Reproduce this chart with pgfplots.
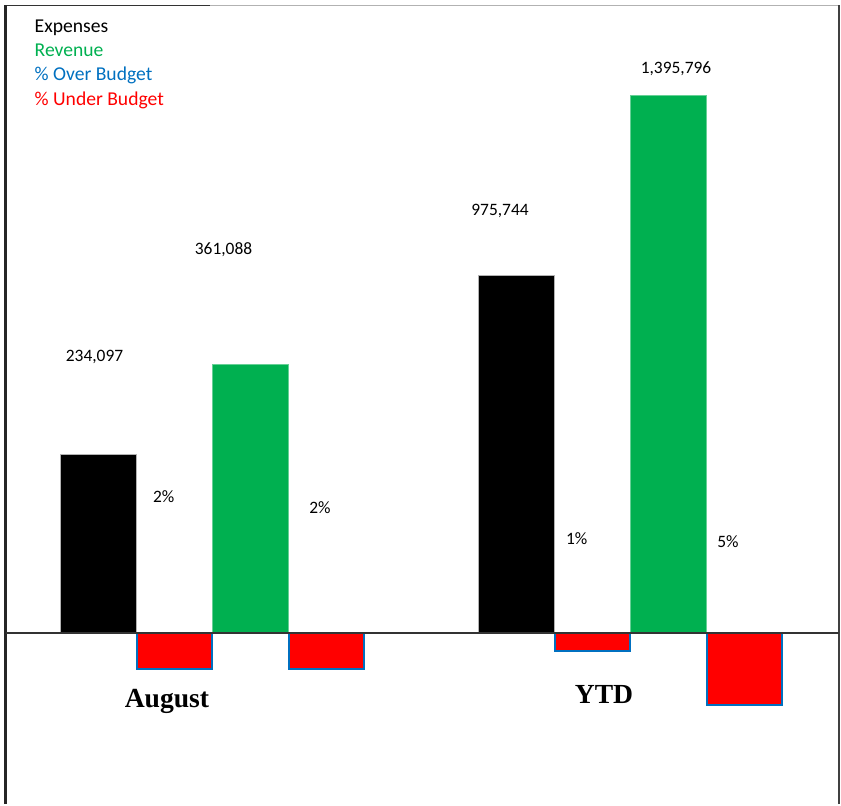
\documentclass[border=0pt]{standalone}
\usepackage{pgfplots}
\pgfplotsset{compat=1.18}
\usepackage{fontspec}
\setmainfont{Carlito}
\newfontfamily\catfont{Liberation Serif}
\definecolor{xgreen}{RGB}{0,176,80}
\definecolor{xblue}{RGB}{0,112,192}
\definecolor{xred}{RGB}{255,0,0}
\begin{document}
\begin{tikzpicture}
\begin{axis}[
  scale only axis, width=420.5pt, height=402pt,
  xmin=0, xmax=841, ymin=-171, ymax=633,
  hide axis, clip=false,
]
\path (axis cs:0,-171) rectangle (axis cs:841,633);
% frame
\draw[gray!60, line width=0.8pt] (axis cs:5.5,627.5) -- (axis cs:839,627.5);
\draw[black!80, line width=0.8pt] (axis cs:5.5,627.5) -- (axis cs:210,627.5);
\draw[black!85, line width=1.1pt] (axis cs:5.5,-171) -- (axis cs:5.5,628);
\draw[black!75, line width=0.8pt] (axis cs:839,-171) -- (axis cs:839,628);
% bars (heights in drawn units)
\addplot[ybar, bar width=76, bar shift=0pt, fill=black, draw=gray!60, line width=0.3pt]
  coordinates {(98.7,179) (516.3,358)};
\addplot[ybar, bar width=76, bar shift=0pt, fill=xgreen, draw=xgreen!60, line width=0.3pt]
  coordinates {(250.5,269) (668.5,537.5)};
\addplot[ybar, bar width=75, bar shift=0pt, fill=xred, draw=xblue, line width=0.8pt]
  coordinates {(174.7,-36) (326.7,-36) (592.5,-18) (744.3,-72)};
% zero line
\draw[black!80, line width=0.7pt] (axis cs:5.5,0) -- (axis cs:839,0);
% value labels
\begin{scope}[font=\fontsize{8.7}{10}\selectfont]
\node at (axis cs:94.5,276.3) {234,097};
\node at (axis cs:223.5,383) {361,088};
\node at (axis cs:500,422) {975,744};
\node at (axis cs:676,564) {1,395,796};
\node at (axis cs:163.8,136.3) {2\%};
\node at (axis cs:320,125.7) {2\%};
\node at (axis cs:576.7,94.7) {1\%};
\node at (axis cs:728,91.3) {5\%};
\end{scope}
% legend
\begin{scope}[font=\fontsize{9.8}{12}\selectfont, inner sep=0pt]
\node[anchor=base west] at (axis cs:34.3,600.3) {Expenses};
\node[anchor=base west, text=xgreen] at (axis cs:34.3,576.3) {Revenue};
\node[anchor=base west, text=xblue] at (axis cs:34.3,552) {\% Over Budget};
\node[anchor=base west, text=xred] at (axis cs:34.3,527.7) {\% Under Budget};
\end{scope}
% category labels
\begin{scope}[font=\catfont\bfseries\fontsize{13.8}{16}\selectfont, inner sep=0pt]
\node[anchor=base] at (axis cs:167,-74.5) {August};
\node[anchor=base] at (axis cs:604,-70.5) {YTD};
\end{scope}
\end{axis}
\end{tikzpicture}
\end{document}
